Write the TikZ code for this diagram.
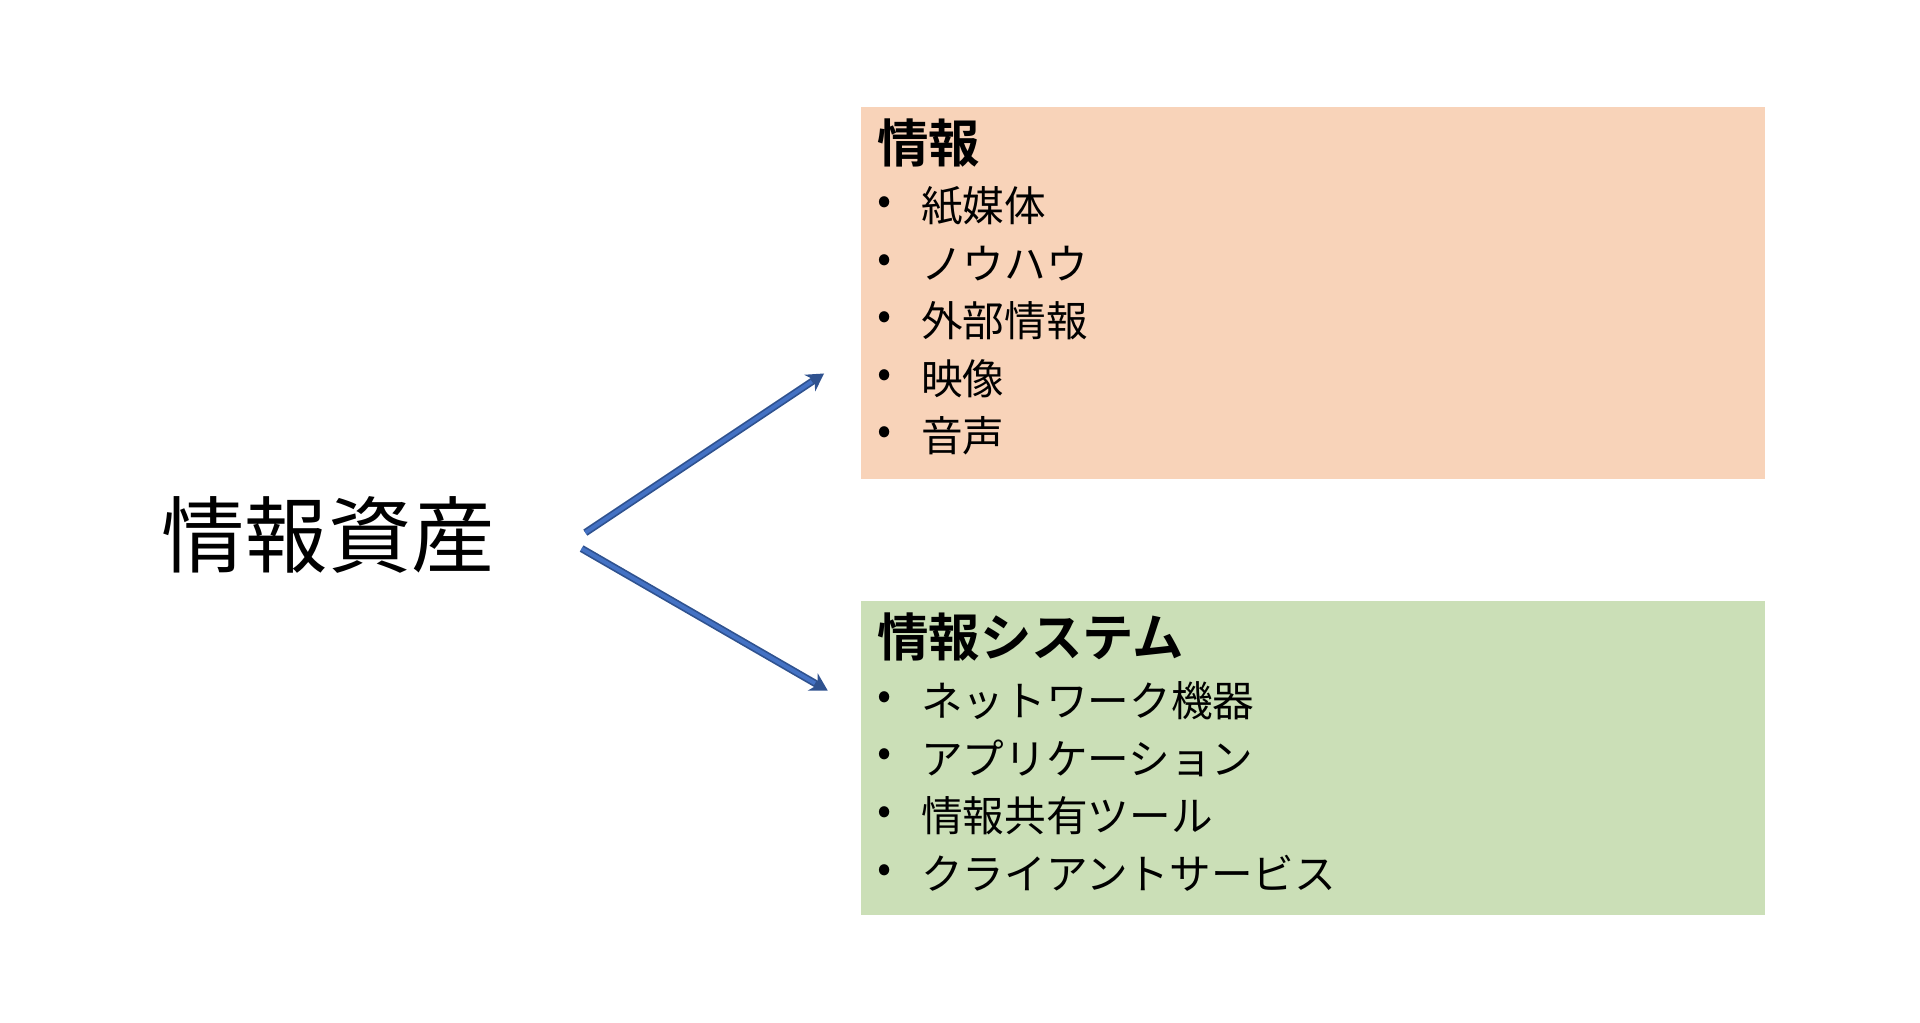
\documentclass[tikz,border=0pt]{standalone}
\usepackage{fontspec}
\setmainfont{Noto Sans CJK JP}
\newfontfamily\jpb{Noto Sans CJK JP Bold}
\usetikzlibrary{arrows.meta}
\definecolor{orng}{RGB}{248,211,185}
\definecolor{grn}{RGB}{203,223,183}
\definecolor{ablue}{RGB}{68,114,196}
\definecolor{adark}{RGB}{47,82,143}
\begin{document}
\begin{tikzpicture}[x=0.5pt,y=-0.5pt,
  item/.style={anchor=west,inner sep=0,font=\fontsize{17}{20}\selectfont},
  bul/.style={anchor=center,inner sep=0,font=\fontsize{17}{20}\selectfont},
  head/.style={anchor=west,inner sep=0,font=\jpb\fontsize{21}{24}\selectfont},
  arr/.style={line width=3pt,draw=adark,-{Stealth[length=7pt,width=8pt]}}]
\useasboundingbox (0,0) rectangle (1568,835);
\fill[orng] (703,87) rectangle (1441,391);
\fill[grn] (703,491) rectangle (1441,747);
\node[anchor=center,font=\fontsize{34}{40}\selectfont] (title) at (268,437) {情報資産};
\node[head] (h1) at (716,117) {情報};
\foreach \t [count=\i] in {紙媒体,ノウハウ,外部情報,映像,音声}{
  \node[bul] (b1\i) at (722,121+47*\i) {•};
  \node[item] (i1\i) at (752,121+47*\i) {\t};}
\node[head] (h2) at (716,520) {情報システム};
\foreach \t [count=\i] in {ネットワーク機器,アプリケーション,情報共有ツール,クライアントサービス}{
  \node[bul] (b2\i) at (722,525+47*\i) {•};
  \node[item] (i2\i) at (752,525+47*\i) {\t};}
\coordinate (s1) at (478,435); \coordinate (e1) at (673,305);
\coordinate (s2) at (475,448); \coordinate (e2) at (676,564);
\draw[arr] (s1) -- (e1);
\draw[arr] (s2) -- (e2);
\draw[line width=1.6pt,ablue,shorten >=6pt] (s1) -- (e1);
\draw[line width=1.6pt,ablue,shorten >=6pt] (s2) -- (e2);
\end{tikzpicture}
\end{document}
